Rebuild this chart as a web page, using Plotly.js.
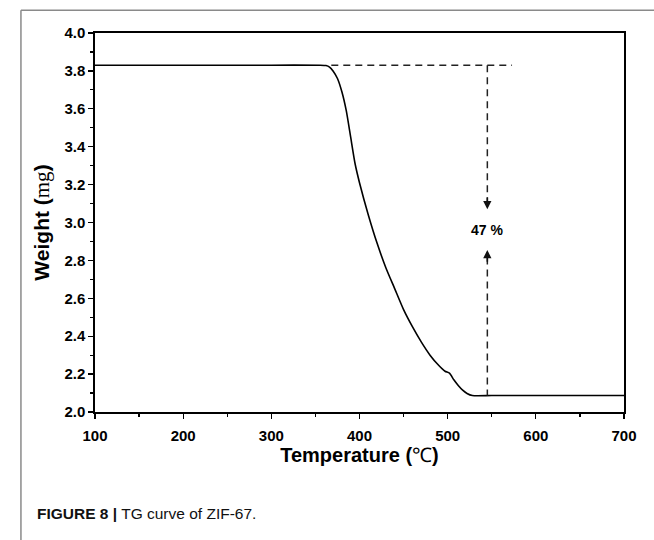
<!DOCTYPE html>
<html>
<head>
<meta charset="utf-8">
<script src="https://cdn.plot.ly/plotly-3.0.1.min.js"></script>
<style>html,body{margin:0;padding:0;background:#fff;}#chart{width:654px;height:540px;}</style>
</head>
<body>
<div id="chart"></div>
<script>
// Temperature (°C) and weight (mg)
const temperature = [100, 200, 300, 355, 362, 366, 370, 375, 380, 385, 390, 395, 400, 410, 420, 430, 440, 450, 460, 470, 480, 490, 497, 502, 507, 512, 517, 522, 528, 550, 600, 650, 700];
const weight =      [3.83, 3.83, 3.83, 3.83, 3.828, 3.82, 3.80, 3.76, 3.69, 3.59, 3.45, 3.31, 3.21, 3.04, 2.89, 2.76, 2.65, 2.54, 2.45, 2.37, 2.30, 2.245, 2.215, 2.205, 2.17, 2.14, 2.115, 2.098, 2.087, 2.087, 2.087, 2.087, 2.087];

// Mass-loss marker (dashed guides)
const guideStartT = 368, guideEndT = 573;     // horizontal dashed line at initial weight
const guideT = 545;                           // vertical dashed line position
const initialWeight = 3.83, finalWeight = 2.087;
const arrowDownTip = 3.07, arrowUpTip = 2.855, labelW = 2.96;
const lossLabel = "47 %";

const xTicks = [100, 200, 300, 400, 500, 600, 700];
const yTicks = [2.0, 2.2, 2.4, 2.6, 2.8, 3.0, 3.2, 3.4, 3.6, 3.8, 4.0];

const sans = "Liberation Sans, Arial, sans-serif";
const tickFont = {family: sans, size: 15, color: "#000", weight: "bold"};

const traces = [{
  x: temperature, y: weight, type: "scatter", mode: "lines",
  line: {color: "#000", width: 1.6, shape: "spline", smoothing: 0.6},
  hoverinfo: "skip", showlegend: false
}];

const dashStyle = {color: "#222", width: 1.5, dash: "7px,5px"};
const shapes = [
  {type: "line", xref: "x", yref: "y", x0: guideStartT, x1: guideEndT, y0: initialWeight, y1: initialWeight, line: dashStyle},
  {type: "line", xref: "x", yref: "y", x0: guideT, x1: guideT, y0: initialWeight, y1: arrowDownTip + 0.04, line: dashStyle},
  {type: "line", xref: "x", yref: "y", x0: guideT, x1: guideT, y0: arrowUpTip - 0.04, y1: finalWeight, line: dashStyle},
  // outer figure border (top and left)
  {type: "line", xref: "paper", yref: "paper", x0: -0.14, x1: 1.1, y0: 1.06, y1: 1.06, line: {color: "#8a8a8a", width: 1.5}},
  {type: "line", xref: "paper", yref: "paper", x0: -0.14, x1: -0.14, y0: 1.06, y1: -0.36, line: {color: "#8a8a8a", width: 1.5}}
];

const annotations = [
  {x: guideT, y: arrowDownTip, ax: guideT, ay: arrowDownTip + 0.07, xref: "x", yref: "y", axref: "x", ayref: "y",
   showarrow: true, arrowhead: 2, arrowsize: 1.1, arrowwidth: 1.5, arrowcolor: "#111", text: ""},
  {x: guideT, y: arrowUpTip, ax: guideT, ay: arrowUpTip - 0.07, xref: "x", yref: "y", axref: "x", ayref: "y",
   showarrow: true, arrowhead: 2, arrowsize: 1.1, arrowwidth: 1.5, arrowcolor: "#111", text: ""},
  {x: guideT, y: labelW, xref: "x", yref: "y", showarrow: false, text: "<b>" + lossLabel + "</b>",
   font: {family: sans, size: 14, color: "#000"}},
  {xref: "paper", yref: "paper", x: -0.114, y: -0.268, xanchor: "left", yanchor: "middle", showarrow: false,
   text: "<b>FIGURE 8 |</b> TG curve of ZIF-67.",
   font: {family: sans, size: 15.5, color: "#111"}}
];

const layout = {
  width: 654, height: 540,
  margin: {l: 95, r: 30, t: 33, b: 128},
  paper_bgcolor: "#fff", plot_bgcolor: "#fff",
  showlegend: false,
  xaxis: {
    range: [100, 700], tickvals: xTicks, ticktext: xTicks.map(String),
    ticks: "outside", ticklen: 5, tickwidth: 1.3, tickcolor: "#000",
    ticklabelstandoff: 4,
    minor: {dtick: 50, ticks: "outside", ticklen: 3, tickwidth: 1.2, tickcolor: "#000"},
    showline: true, linecolor: "#000", linewidth: 1.6, mirror: true,
    showgrid: false, zeroline: false,
    tickfont: tickFont,
    title: {text: "<b>Temperature (</b><span style=\"font-family:'Liberation Serif'\">℃</span><b>)</b>",
            font: {family: sans, size: 20, color: "#000"}, standoff: 4}
  },
  yaxis: {
    range: [2.0, 4.0], tickvals: yTicks, ticktext: yTicks.map(v => v.toFixed(1)),
    ticks: "outside", ticklen: 5, tickwidth: 1.3, tickcolor: "#000",
    minor: {dtick: 0.1, ticks: "outside", ticklen: 3, tickwidth: 1.2, tickcolor: "#000"},
    showline: true, linecolor: "#000", linewidth: 1.6, mirror: true,
    showgrid: false, zeroline: false,
    tickfont: tickFont,
    title: {text: "<b>Weight (</b><span style=\"font-family:'Liberation Serif';font-weight:normal\">mg</span><b>)</b>",
            font: {family: sans, size: 21, color: "#000"}, standoff: 9}
  },
  shapes: shapes,
  annotations: annotations
};

Plotly.newPlot("chart", traces, layout, {displayModeBar: false, staticPlot: true});
</script>
</body>
</html>
